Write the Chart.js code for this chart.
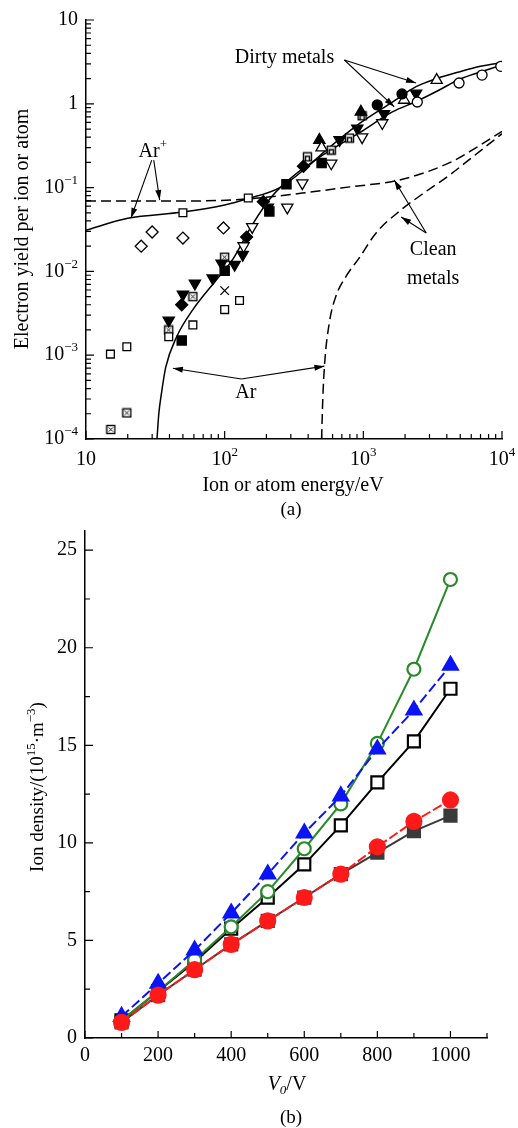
<!DOCTYPE html>
<html>
<head>
<meta charset="utf-8">
<script src="https://cdn.jsdelivr.net/npm/chart.js@4.4.0/dist/chart.umd.min.js"></script>
<style>
  html, body { margin: 0; padding: 0; background: #fff; }
  canvas { display: block; }
</style>
</head>
<body>
<canvas id="chartA" width="518" height="520"></canvas>
<canvas id="chartB" width="518" height="608"></canvas>
<script>
// ---------- (a) electron yield data, [energy eV, yield] ----------
const arPlusClean = [[10,0.069],[50,0.069],[144,0.073],[363,0.086],[800,0.102],[1815,0.123],[4160,0.197],[6300,0.29],[10000,0.47]];
const arClean = [[500,1e-4],[510,3e-4],[526,8e-4],[570,0.0025],[630,0.0049],[760,0.009],[935,0.0145],[1240,0.029],[1815,0.052],[2700,0.085],[4160,0.14],[6300,0.24],[10000,0.44]];
const arPlusDirty = [[10,0.031],[20,0.043],[50,0.051],[100,0.062],[144,0.073],[250,0.1],[400,0.18],[540,0.28],[935,0.58],[1620,1.05],[2400,1.6],[3380,2.0],[4900,2.4],[7000,2.8],[10000,3.1]];
const arDirty = [[32.5,1e-4],[33.5,2e-4],[35,3.5e-4],[37.6,7.2e-4],[45,1.65e-3],[59,3.5e-3],[87,7.9e-3],[114,0.0138],[158,0.036],[221,0.08],[300,0.13],[540,0.26],[935,0.45],[1620,0.8],[2450,1.08],[3500,1.45],[4900,1.95],[7000,2.4],[10000,2.9]];

const openSquares = [[50,0.05],[148,0.075],[15,1.03e-3],[19.7,1.26e-3],[39.5,1.66e-3],[59,2.3e-3],[100,3.5e-3],[128,4.5e-3]];
const boxCross = [[15.1,1.3e-4],[19.7,2.05e-4],[39.5,2.0e-3],[59,5.0e-3],[100,0.0148]];
const openDiamonds = [[25,0.020],[30,0.0295],[50,0.025],[98,0.033]];
const filledSquares = [[49,1.5e-3],[100,0.0102],[210,0.052],[279,0.11],[500,0.197]];
const filledInvTri = [[39.5,2.6e-3],[50,5.3e-3],[61,7.2e-3],[82,8.3e-3],[95,0.0125],[118,0.012],[135,0.0158],[205,0.058],[674,0.37],[905,0.51],[1410,0.76],[2400,1.33]];
const filledDiamonds = [[49,4.0e-3],[144,0.0257],[190,0.068],[370,0.18]];
const openInvTri = [[137,0.0201],[158,0.034],[283,0.058],[363,0.113],[587,0.195],[980,0.40],[1370,0.59]];
const openTri = [[500,0.30],[1970,1.11],[3380,1.92]];
const filledTri = [[482,0.37],[960,0.80]];
const filledCircles = [[1260,0.97],[1900,1.31]];
const openCircles = [[2450,1.05],[4900,1.77],[7180,2.2],[9800,2.8]];
const boxArch = [[395,0.233],[587,0.28],[795,0.39],[980,0.72]];
const crossMarks = [[100,5.9e-3]];

const xMajorA = [10, 100, 1000, 10000];
const yMajorA = [1e-4, 1e-3, 1e-2, 0.1, 1, 10];
const xLabelsA = [['10',''],['10','2'],['10','3'],['10','4']];
const yLabelsA = [['10','−4'],['10','−3'],['10','−2'],['10','−1'],['1',''],['10','']];

// ---------- (b) ion density data ----------
const voltage = [100,200,300,400,500,600,700,800,900,1000];
const greenCircle = [0.9,2.4,4.0,5.7,7.5,9.7,12.0,15.1,18.9,23.5];
const blueTriangle = [1.1,2.8,4.5,6.4,8.4,10.5,12.4,14.8,16.8,19.1];
const blackSquare = [0.9,2.4,3.9,5.6,7.2,8.9,10.9,13.1,15.2,17.9];
const redCircle = [0.8,2.2,3.5,4.8,6.0,7.2,8.4,9.8,11.1,12.2];
const graySquare = [0.8,2.2,3.5,4.8,6.0,7.2,8.4,9.5,10.6,11.4];

const xTicksB = [0,100,200,300,400,500,600,700,800,900,1000,1100];
const xLabelsB = [0,200,400,600,800,1000];
const yTicksB = [0,2.5,5,7.5,10,12.5,15,17.5,20,22.5,25];
const yLabelsB = [0,5,10,15,20,25];

const SERIF = '"Liberation Serif", "Times New Roman", serif';

const pts = arr => arr.map(p => ({ x: p[0], y: p[1] }));

// draw text made of parts with optional sup/sub/italic
function drawRich(ctx, parts, x, y, size, align) {
  const small = Math.round(size * 0.66);
  const fontOf = p => (p.it ? 'italic ' : '') + ((p.sup || p.sub) ? small : size) + 'px ' + SERIF;
  let w = 0;
  const ws = parts.map(p => { ctx.font = fontOf(p); const m = ctx.measureText(p.t).width; w += m; return m; });
  let cx = align === 'right' ? x - w : align === 'left' ? x : x - w / 2;
  ctx.textAlign = 'left';
  ctx.textBaseline = 'middle';
  parts.forEach((p, i) => {
    ctx.font = fontOf(p);
    const dy = p.sup ? -size * 0.36 : p.sub ? size * 0.3 : 0;
    ctx.fillText(p.t, cx, y + dy);
    cx += ws[i];
  });
}

function arrow(ctx, x1, y1, x2, y2) {
  ctx.beginPath(); ctx.moveTo(x1, y1); ctx.lineTo(x2, y2); ctx.stroke();
  const a = Math.atan2(y2 - y1, x2 - x1), L = 10, W = 3;
  ctx.beginPath();
  ctx.moveTo(x2, y2);
  ctx.lineTo(x2 - L * Math.cos(a) + W * Math.sin(a), y2 - L * Math.sin(a) - W * Math.cos(a));
  ctx.lineTo(x2 - L * Math.cos(a) - W * Math.sin(a), y2 - L * Math.sin(a) + W * Math.cos(a));
  ctx.closePath(); ctx.fill();
}

// small custom markers
function makeBox(kind) {
  const c = document.createElement('canvas');
  c.width = 11; c.height = 11;
  const g = c.getContext('2d');
  g.fillStyle = '#fff'; g.fillRect(1.5, 1.5, 8, 8);
  g.strokeStyle = '#000'; g.lineWidth = 1.4;
  g.strokeRect(1.5, 1.5, 8, 8);
  g.beginPath();
  if (kind === 'x') {
    g.lineWidth = 1;
    g.moveTo(3.5, 3.5); g.lineTo(7.5, 7.5); g.moveTo(7.5, 3.5); g.lineTo(3.5, 7.5);
  } else {
    g.moveTo(3.5, 9.5); g.lineTo(3.5, 5); g.lineTo(7.5, 5); g.lineTo(7.5, 9.5);
  }
  g.stroke();
  return c;
}

const curve = (data, dashed) => ({
  data: pts(data), showLine: true, pointRadius: 0, borderColor: '#000', borderWidth: 1.5,
  borderDash: dashed ? [10, 5] : [], cubicInterpolationMode: 'monotone', fill: false
});
const marks = (data, style, r, filled, rot) => ({
  data: pts(data), showLine: false, pointStyle: style, pointRadius: r, pointRotation: rot || 0,
  pointBackgroundColor: filled ? '#000' : '#fff', pointBorderColor: '#000', pointBorderWidth: 1.3
});

const decorA = {
  id: 'decorA',
  afterDraw(chart) {
    const ctx = chart.ctx, xs = chart.scales.x, ys = chart.scales.y, area = chart.chartArea;
    ctx.save();
    ctx.strokeStyle = '#000'; ctx.fillStyle = '#000'; ctx.lineWidth = 1.2;
    // inward ticks
    ctx.beginPath();
    xMajorA.forEach((d, i) => {
      const px = xs.getPixelForValue(d);
      ctx.moveTo(px, area.bottom); ctx.lineTo(px, area.bottom - 8);
      if (i < xMajorA.length - 1) for (let m = 2; m < 10; m++) {
        const q = xs.getPixelForValue(d * m);
        ctx.moveTo(q, area.bottom); ctx.lineTo(q, area.bottom - 5);
      }
    });
    yMajorA.forEach((d, i) => {
      const py = ys.getPixelForValue(d);
      ctx.moveTo(area.left, py); ctx.lineTo(area.left + 8, py);
      if (i < yMajorA.length - 1) for (let m = 2; m < 10; m++) {
        const q = ys.getPixelForValue(d * m);
        ctx.moveTo(area.left, q); ctx.lineTo(area.left + 5, q);
      }
    });
    ctx.stroke();
    // tick labels
    xMajorA.forEach((d, i) => {
      const l = xLabelsA[i];
      drawRich(ctx, [{ t: l[0] }, { t: l[1], sup: true }], xs.getPixelForValue(d), area.bottom + 21, 20, 'center');
    });
    yMajorA.forEach((d, i) => {
      const l = yLabelsA[i];
      drawRich(ctx, [{ t: l[0] }, { t: l[1], sup: true }], area.left - 8, ys.getPixelForValue(d), 20, 'right');
    });
    // axis titles
    drawRich(ctx, [{ t: 'Ion or atom energy/eV' }], 293, 486, 20, 'center');
    drawRich(ctx, [{ t: '(a)' }], 291, 510, 19, 'center');
    ctx.save();
    ctx.translate(23, 229); ctx.rotate(-Math.PI / 2);
    drawRich(ctx, [{ t: 'Electron yield per ion or atom' }], 0, 0, 20, 'center');
    ctx.restore();
    // annotations (data coordinates)
    const P = (e, v) => [xs.getPixelForValue(e), ys.getPixelForValue(v)];
    ctx.lineWidth = 1.1;
    let t = P(30.3, 0.27);
    drawRich(ctx, [{ t: 'Ar' }, { t: '+', sup: true }], t[0], t[1], 20, 'center');
    let s = P(30.3, 0.213), e1 = P(21.1, 0.0434), e2 = P(34, 0.071);
    arrow(ctx, s[0] - 1, s[1], e1[0], e1[1]);
    arrow(ctx, s[0] + 1, s[1], e2[0], e2[1]);
    t = P(270, 3.5);
    drawRich(ctx, [{ t: 'Dirty metals' }], t[0], t[1], 20, 'center');
    s = P(730, 3.33); e1 = P(2400, 1.77); e2 = P(1670, 0.92);
    arrow(ctx, s[0], s[1], e1[0], e1[1]);
    arrow(ctx, s[0], s[1], e2[0], e2[1]);
    t = P(3190, 0.018);
    drawRich(ctx, [{ t: 'Clean' }], t[0], t[1], 20, 'center');
    t = P(3190, 0.0081);
    drawRich(ctx, [{ t: 'metals' }], t[0], t[1], 20, 'center');
    s = P(2840, 0.0287); e1 = P(1670, 0.123); e2 = P(1875, 0.0446);
    arrow(ctx, s[0], s[1], e1[0], e1[1]);
    arrow(ctx, s[0], s[1], e2[0], e2[1]);
    t = P(142, 3.54e-4);
    drawRich(ctx, [{ t: 'Ar' }], t[0], t[1], 20, 'center');
    s = P(132, 5.2e-4); e1 = P(42.3, 7.0e-4); e2 = P(524, 7.4e-4);
    arrow(ctx, s[0], s[1], e1[0], e1[1]);
    arrow(ctx, s[0], s[1], e2[0], e2[1]);
    ctx.restore();
  }
};

new Chart(document.getElementById('chartA'), {
  type: 'scatter',
  data: {
    datasets: [
      marks(openCircles, 'circle', 5, false),
      marks(filledCircles, 'circle', 5, true),
      marks(openTri, 'triangle', 6.5, false),
      marks(filledTri, 'triangle', 6.5, true),
      marks(boxArch, makeBox('n'), 5, false),
      marks(openInvTri, 'triangle', 6.5, false, 180),
      marks(filledInvTri, 'triangle', 6.5, true, 180),
      marks(filledDiamonds, 'rectRot', 6, true),
      marks(openDiamonds, 'rectRot', 6, false),
      marks(filledSquares, 'rect', 6.5, true),
      marks(openSquares, 'rect', 5.5, false),
      marks(boxCross, makeBox('x'), 5, false),
      marks(crossMarks, 'crossRot', 6, false),
      curve(arPlusDirty, false),
      curve(arDirty, false),
      curve(arPlusClean, true),
      curve(arClean, true)
    ]
  },
  options: {
    responsive: false,
    animation: false,
    layout: { padding: { top: 20, right: 16, left: 0, bottom: 0 } },
    plugins: { legend: { display: false }, tooltip: { enabled: false } },
    scales: {
      x: {
        type: 'logarithmic', min: 10, max: 10000,
        grid: { display: false }, border: { color: '#000', width: 1.5 },
        ticks: { display: false },
        afterFit: s => { s.height = 81; }
      },
      y: {
        type: 'logarithmic', min: 1e-4, max: 10,
        grid: { display: false }, border: { color: '#000', width: 1.5 },
        ticks: { display: false },
        afterFit: s => { s.width = 86; }
      }
    }
  },
  plugins: [decorA]
});

// ---------- chart (b) ----------
const decorB = {
  id: 'decorB',
  afterDraw(chart) {
    const ctx = chart.ctx, xs = chart.scales.x, ys = chart.scales.y, area = chart.chartArea;
    ctx.save();
    ctx.strokeStyle = '#000'; ctx.fillStyle = '#000'; ctx.lineWidth = 1.2;
    ctx.beginPath();
    xTicksB.forEach(v => {
      const px = xs.getPixelForValue(v);
      const len = xLabelsB.includes(v) ? 7 : 5;
      ctx.moveTo(px, area.bottom); ctx.lineTo(px, area.bottom - len);
    });
    yTicksB.forEach(v => {
      const py = ys.getPixelForValue(v);
      const len = yLabelsB.includes(v) ? 8 : 5;
      ctx.moveTo(area.left, py); ctx.lineTo(area.left + len, py);
    });
    ctx.stroke();
    xLabelsB.forEach(v => drawRich(ctx, [{ t: String(v) }], xs.getPixelForValue(v), area.bottom + 18, 20, 'center'));
    yLabelsB.forEach(v => drawRich(ctx, [{ t: String(v) }], area.left - 8, ys.getPixelForValue(v), 20, 'right'));
    drawRich(ctx, [{ t: 'V', it: true }, { t: '0', sub: true, it: true }, { t: '/V' }], 287, 565, 20, 'center');
    drawRich(ctx, [{ t: '(b)' }], 291, 598, 19, 'center');
    ctx.save();
    ctx.translate(38, 267); ctx.rotate(-Math.PI / 2);
    drawRich(ctx, [{ t: 'Ion density/(10' }, { t: '15', sup: true }, { t: '·m' }, { t: '−3', sup: true }, { t: ')' }], 0, 0, 19, 'center');
    ctx.restore();
    ctx.restore();
  }
};

const seriesB = (vals, color, style, r, filled, dash) => ({
  data: voltage.map((v, i) => ({ x: v, y: vals[i] })),
  borderColor: color, borderWidth: 2, borderDash: dash || [],
  pointStyle: style, pointRadius: r,
  pointBackgroundColor: filled ? color : '#fff', pointBorderColor: color, pointBorderWidth: 2.2,
  tension: 0, fill: false
});

new Chart(document.getElementById('chartB'), {
  type: 'line',
  data: {
    datasets: [
      seriesB(redCircle, '#ff1a1a', 'circle', 7.5, true, [10, 3]),
      seriesB(blueTriangle, '#0a14f5', 'triangle', 8.5, true, [10, 4]),
      seriesB(greenCircle, '#2a8a2a', 'circle', 6.5, false),
      seriesB(blackSquare, '#000000', 'rect', 8.5, false),
      seriesB(graySquare, '#3a3a3a', 'rect', 8.5, true)
    ]
  },
  options: {
    responsive: false,
    animation: false,
    layout: { padding: { top: 5, right: 31, left: 0, bottom: 0 } },
    plugins: { legend: { display: false }, tooltip: { enabled: false } },
    scales: {
      x: {
        type: 'linear', min: 0, max: 1100,
        grid: { display: false }, border: { color: '#000', width: 1.5 },
        ticks: { display: false },
        afterFit: s => { s.height = 90; }
      },
      y: {
        type: 'linear', min: 0, max: 26,
        grid: { display: false }, border: { color: '#000', width: 1.5 },
        ticks: { display: false },
        afterFit: s => { s.width = 85; }
      }
    }
  },
  plugins: [decorB]
});
</script>
</body>
</html>
